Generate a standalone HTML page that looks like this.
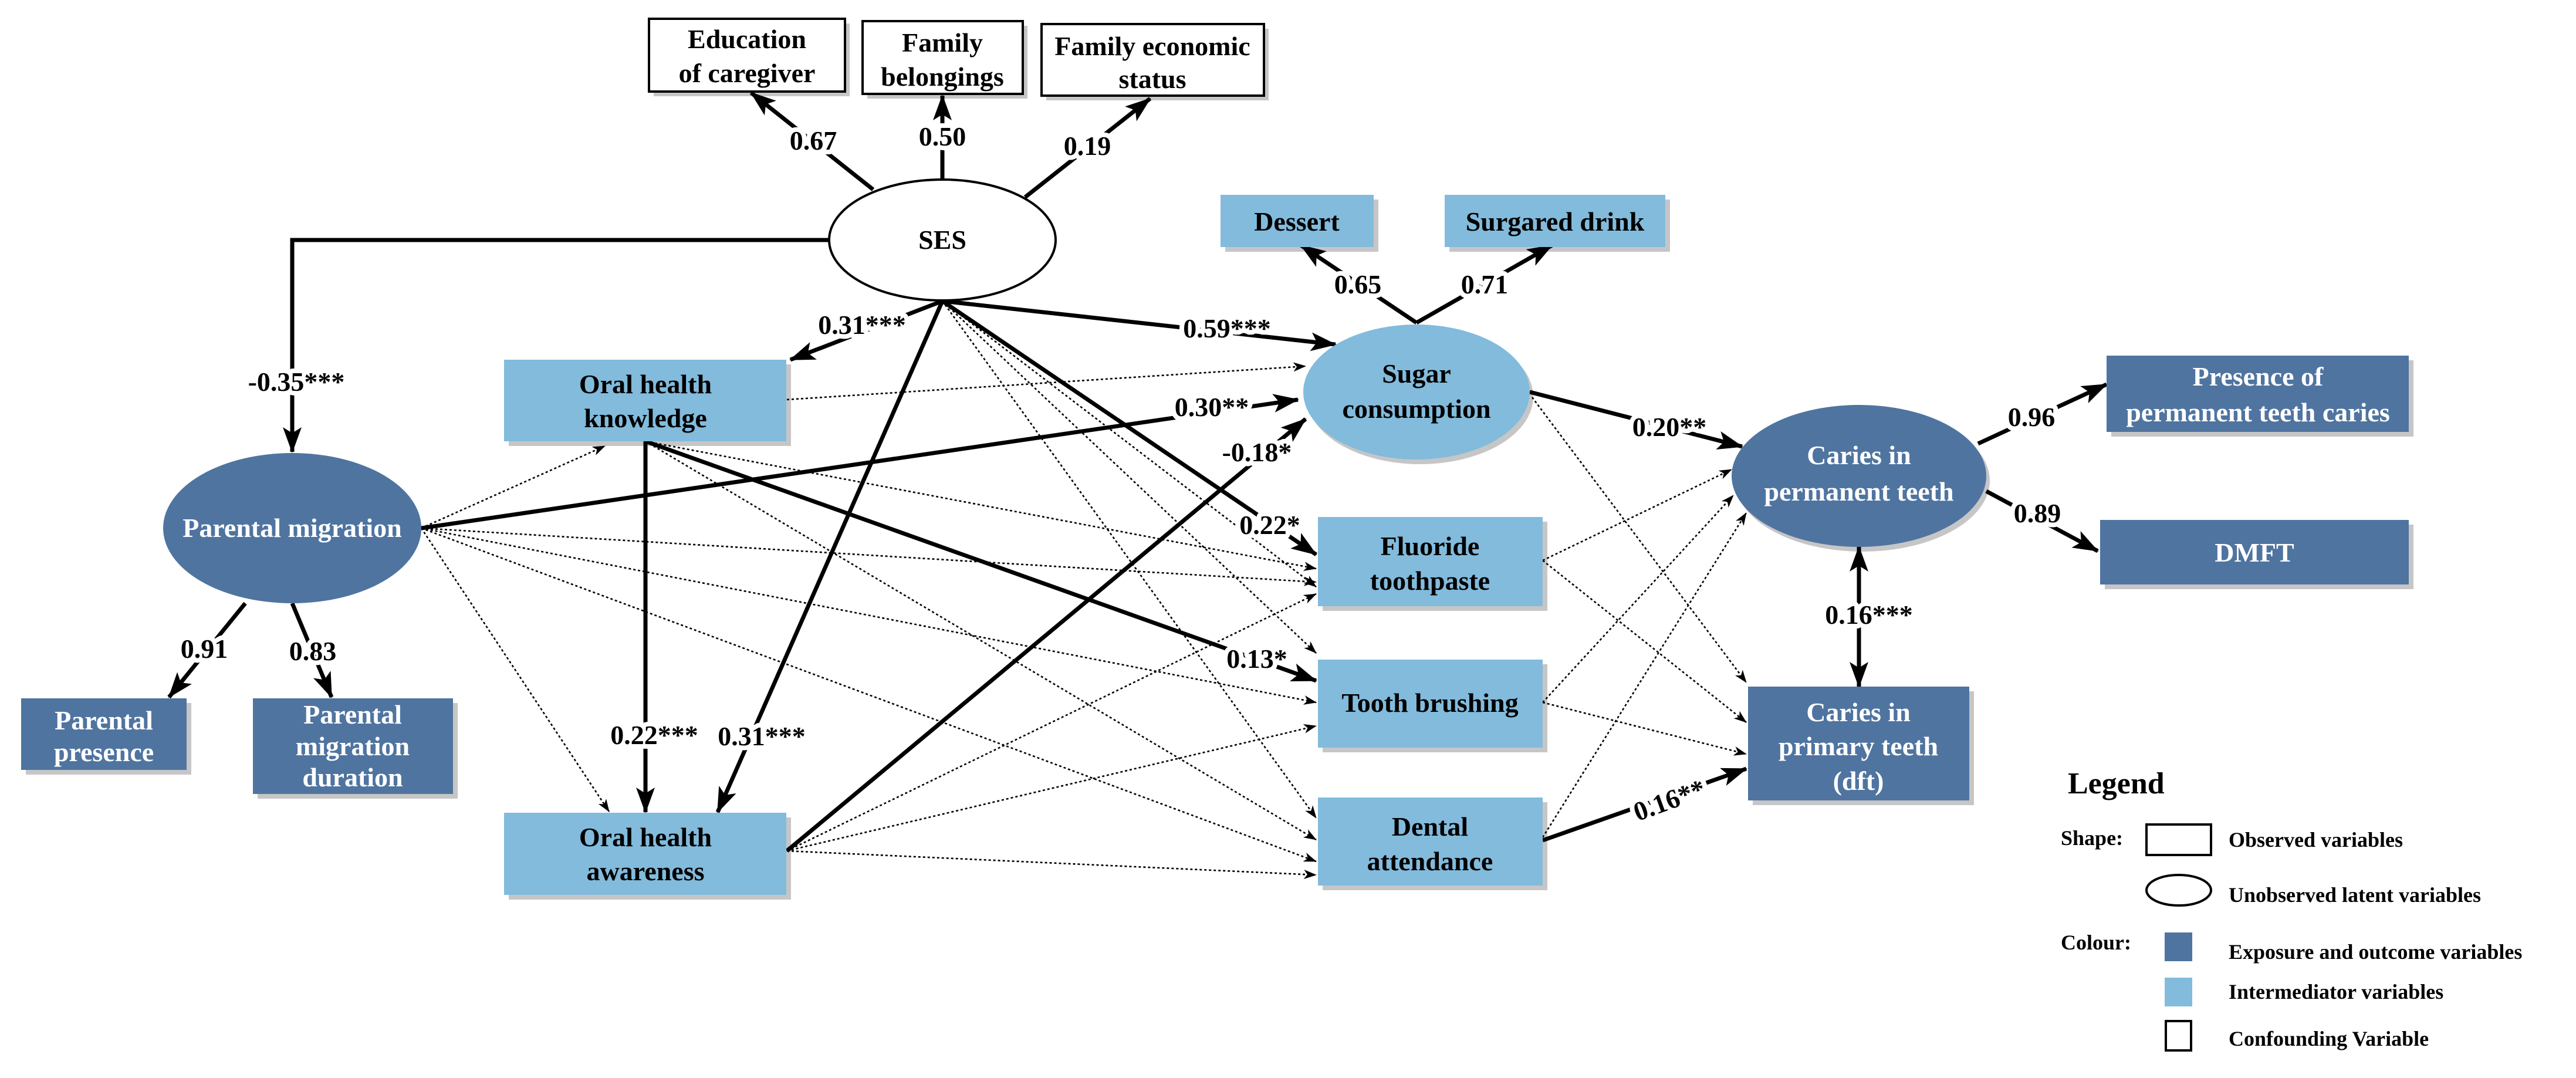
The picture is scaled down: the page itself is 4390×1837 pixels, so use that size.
<!DOCTYPE html>
<html><head><meta charset="utf-8"><style>
html,body{margin:0;padding:0;background:#fff;}
svg{display:block;}
</style></head><body>
<svg width="4390" height="1837" viewBox="0 0 4390 1837" xmlns="http://www.w3.org/2000/svg" font-family="'Liberation Serif', 'Times New Roman', serif" font-weight="bold">
<defs>
<marker id="a" markerUnits="userSpaceOnUse" markerWidth="44" markerHeight="36" refX="42" refY="18" orient="auto"><path d="M0,2 L44,18 L0,34 L10,18 z" fill="#000"/></marker>
<marker id="s" markerUnits="userSpaceOnUse" markerWidth="22" markerHeight="18" refX="21" refY="9" orient="auto"><path d="M0,1 L22,9 L0,17 L6,9 z" fill="#000"/></marker>
<marker id="b" markerUnits="userSpaceOnUse" markerWidth="44" markerHeight="36" refX="2" refY="18" orient="auto"><path d="M44,2 L0,18 L44,34 L34,18 z" fill="#000"/></marker>
</defs>
<rect width="4390" height="1837" fill="#fff"/>
<!-- shadows -->
<g fill="#c6c6c6">
<rect x="1114" y="40" width="334" height="124"/>
<rect x="1478" y="44" width="273" height="124"/>
<rect x="1783" y="49" width="379" height="122"/>
<rect x="2088" y="340" width="261" height="89"/>
<rect x="2470" y="340" width="376" height="89"/>
<rect x="867" y="621" width="481" height="139"/>
<rect x="867" y="1393" width="481" height="140"/>
<rect x="44" y="1198" width="282" height="122"/>
<rect x="439" y="1198" width="341" height="163"/>
<rect x="2254" y="889" width="383" height="152"/>
<rect x="2254" y="1132" width="383" height="150"/>
<rect x="2254" y="1367" width="383" height="150"/>
<rect x="2987" y="1178" width="377" height="194"/>
<rect x="3598" y="614" width="515" height="130"/>
<rect x="3587" y="894" width="526" height="110"/>
<ellipse cx="2420" cy="676" rx="193" ry="115"/>
<ellipse cx="3174" cy="819" rx="217" ry="121"/>
</g>
<!-- dotted lines -->
<g stroke="#000" stroke-width="2.6" stroke-dasharray="4,4" fill="none" marker-end="url(#s)">
<line x1="1341" y1="681" x2="2225" y2="624"/>
<line x1="718" y1="900" x2="1031" y2="760"/>
<line x1="718" y1="900" x2="1038" y2="1383"/>
<line x1="1100" y1="752" x2="2243" y2="969"/>
<line x1="718" y1="900" x2="2243" y2="992"/>
<line x1="1341" y1="1450" x2="2243" y2="1012"/>
<line x1="1606" y1="513" x2="2243" y2="1113"/>
<line x1="718" y1="900" x2="2243" y2="1197"/>
<line x1="1341" y1="1450" x2="2243" y2="1237"/>
<line x1="1606" y1="513" x2="2243" y2="1394"/>
<line x1="1100" y1="752" x2="2243" y2="1431"/>
<line x1="718" y1="900" x2="2243" y2="1468"/>
<line x1="1341" y1="1450" x2="2243" y2="1491"/>
<line x1="1606" y1="513" x2="2243" y2="1000"/>
<line x1="2629" y1="955" x2="2951" y2="800"/>
<line x1="2629" y1="1197" x2="2954" y2="844"/>
<line x1="2629" y1="1427" x2="2976" y2="874"/>
<line x1="2611" y1="677" x2="2976" y2="1163"/>
<line x1="2629" y1="955" x2="2976" y2="1231"/>
<line x1="2629" y1="1197" x2="2976" y2="1285"/>
</g>
<!-- solid lines -->
<g stroke="#000" stroke-width="7" fill="none">
<line x1="1488" y1="323" x2="1280" y2="158" marker-end="url(#a)"/>
<line x1="1606" y1="305" x2="1606" y2="163" marker-end="url(#a)"/>
<line x1="1747" y1="336" x2="1960" y2="168" marker-end="url(#a)"/>
<polyline points="1414,409 498,409 498,770" marker-end="url(#a)"/>
<line x1="1606" y1="513" x2="1347" y2="613" marker-end="url(#a)"/>
<line x1="1606" y1="513" x2="2276" y2="587" marker-end="url(#a)"/>
<line x1="1606" y1="513" x2="1223" y2="1384" marker-end="url(#a)"/>
<line x1="1606" y1="513" x2="2243" y2="945" marker-end="url(#a)"/>
<line x1="1100" y1="752" x2="1100" y2="1384" marker-end="url(#a)"/>
<line x1="1100" y1="752" x2="2243" y2="1160" marker-end="url(#a)"/>
<line x1="718" y1="900" x2="2212" y2="681" marker-end="url(#a)"/>
<line x1="1341" y1="1450" x2="2225" y2="714" marker-end="url(#a)"/>
<line x1="2607" y1="668" x2="2969" y2="761" marker-end="url(#a)"/>
<line x1="2629" y1="1432" x2="2976" y2="1310" marker-end="url(#a)"/>
<line x1="3168" y1="932" x2="3168" y2="1170" marker-start="url(#b)" marker-end="url(#a)"/>
<line x1="3371" y1="756" x2="3590" y2="655" marker-end="url(#a)"/>
<line x1="3385" y1="837" x2="3575" y2="939" marker-end="url(#a)"/>
<line x1="2414" y1="550" x2="2217" y2="418" marker-end="url(#a)"/>
<line x1="2414" y1="550" x2="2645" y2="418" marker-end="url(#a)"/>
<line x1="418" y1="1028" x2="288" y2="1188" marker-end="url(#a)"/>
<line x1="498" y1="1028" x2="565" y2="1188" marker-end="url(#a)"/>
</g>
<!-- nodes -->
<g stroke="#000" stroke-width="4" fill="#fff">
<rect x="1106" y="32" width="334" height="124"/>
<rect x="1470" y="36" width="273" height="124"/>
<rect x="1775" y="41" width="379" height="122"/>
<ellipse cx="1606" cy="409" rx="193" ry="103"/>
</g>
<g fill="#82bbdc">
<rect x="2080" y="332" width="261" height="89"/>
<rect x="2462" y="332" width="376" height="89"/>
<rect x="859" y="613" width="481" height="139"/>
<rect x="859" y="1385" width="481" height="140"/>
<rect x="2246" y="881" width="383" height="152"/>
<rect x="2246" y="1124" width="383" height="150"/>
<rect x="2246" y="1359" width="383" height="150"/>
<ellipse cx="2414" cy="668" rx="193" ry="115"/>
</g>
<g fill="#4f74a0">
<ellipse cx="498" cy="900" rx="220" ry="128"/>
<rect x="36" y="1190" width="282" height="122"/>
<rect x="431" y="1190" width="341" height="163"/>
<rect x="2979" y="1170" width="377" height="194"/>
<rect x="3590" y="606" width="515" height="130"/>
<rect x="3579" y="886" width="526" height="110"/>
<ellipse cx="3168" cy="811" rx="217" ry="121"/>
</g>
<!-- node text -->
<g font-size="46" text-anchor="middle" fill="#000">
<text x="1273" y="82">Education</text><text x="1273" y="140">of caregiver</text>
<text x="1606" y="88">Family</text><text x="1606" y="146">belongings</text>
<text x="1964" y="94">Family economic</text><text x="1964" y="150">status</text>
<text x="1606" y="424">SES</text>
<text x="2210" y="393">Dessert</text>
<text x="2650" y="393">Surgared drink</text>
<text x="1100" y="670">Oral health</text><text x="1100" y="728">knowledge</text>
<text x="1100" y="1442">Oral health</text><text x="1100" y="1500">awareness</text>
<text x="2414" y="652">Sugar</text><text x="2414" y="712">consumption</text>
<text x="2437" y="946">Fluoride</text><text x="2437" y="1005">toothpaste</text>
<text x="2437" y="1213">Tooth brushing</text>
<text x="2437" y="1424">Dental</text><text x="2437" y="1483">attendance</text>
</g>
<g font-size="46" text-anchor="middle" fill="#fff">
<text x="498" y="915">Parental migration</text>
<text x="177" y="1243">Parental</text><text x="177" y="1297">presence</text>
<text x="601" y="1233">Parental</text><text x="601" y="1287">migration</text><text x="601" y="1340">duration</text>
<text x="3168" y="791">Caries in</text><text x="3168" y="853">permanent teeth</text>
<text x="3167" y="1229">Caries in</text><text x="3167" y="1287">primary teeth</text><text x="3167" y="1346">(dft)</text>
<text x="3848" y="657">Presence of</text><text x="3848" y="718">permanent teeth caries</text>
<text x="3842" y="957">DMFT</text>
</g>
<!-- edge labels -->
<g font-size="46" text-anchor="middle" fill="#000" stroke="#fff" stroke-width="16" paint-order="stroke" stroke-linejoin="round">
<text x="1386" y="255">0.67</text>
<text x="1606" y="248">0.50</text>
<text x="1853" y="264">0.19</text>
<text x="505" y="666">-0.35***</text>
<text x="1469" y="569">0.31***</text>
<text x="2091" y="575">0.59***</text>
<text x="2065" y="709">0.30**</text>
<text x="2142" y="786">-0.18*</text>
<text x="2164" y="910">0.22*</text>
<text x="2142" y="1138">0.13*</text>
<text x="1115" y="1268">0.22***</text>
<text x="1298" y="1270">0.31***</text>
<text x="348" y="1121">0.91</text>
<text x="533" y="1125">0.83</text>
<text x="2314" y="500">0.65</text>
<text x="2530" y="500">0.71</text>
<text x="2845" y="743">0.20**</text>
<text x="2845" y="1379" transform="rotate(-20 2845 1364)">0.16**</text>
<text x="3185" y="1063">0.16***</text>
<text x="3462" y="726">0.96</text>
<text x="3472" y="890">0.89</text>
</g>
<!-- legend -->
<g fill="#000">
<text x="3524" y="1352" font-size="52">Legend</text>
<text x="3512" y="1440" font-size="36">Shape:</text>
<rect x="3658" y="1405" width="110" height="52" fill="#fff" stroke="#000" stroke-width="4"/>
<text x="3798" y="1443" font-size="36">Observed variables</text>
<ellipse cx="3713" cy="1517" rx="55" ry="26" fill="#fff" stroke="#000" stroke-width="4"/>
<text x="3798" y="1537" font-size="36">Unobserved latent variables</text>
<text x="3512" y="1618" font-size="36">Colour:</text>
<rect x="3689" y="1589" width="47" height="49" fill="#4f74a0"/>
<text x="3798" y="1634" font-size="36">Exposure and outcome variables</text>
<rect x="3689" y="1666" width="47" height="49" fill="#82bbdc"/>
<text x="3798" y="1702" font-size="36">Intermediator variables</text>
<rect x="3691" y="1740" width="43" height="50" fill="#fff" stroke="#000" stroke-width="4"/>
<text x="3798" y="1782" font-size="36">Confounding Variable</text>
</g>
</svg>
</body></html>
